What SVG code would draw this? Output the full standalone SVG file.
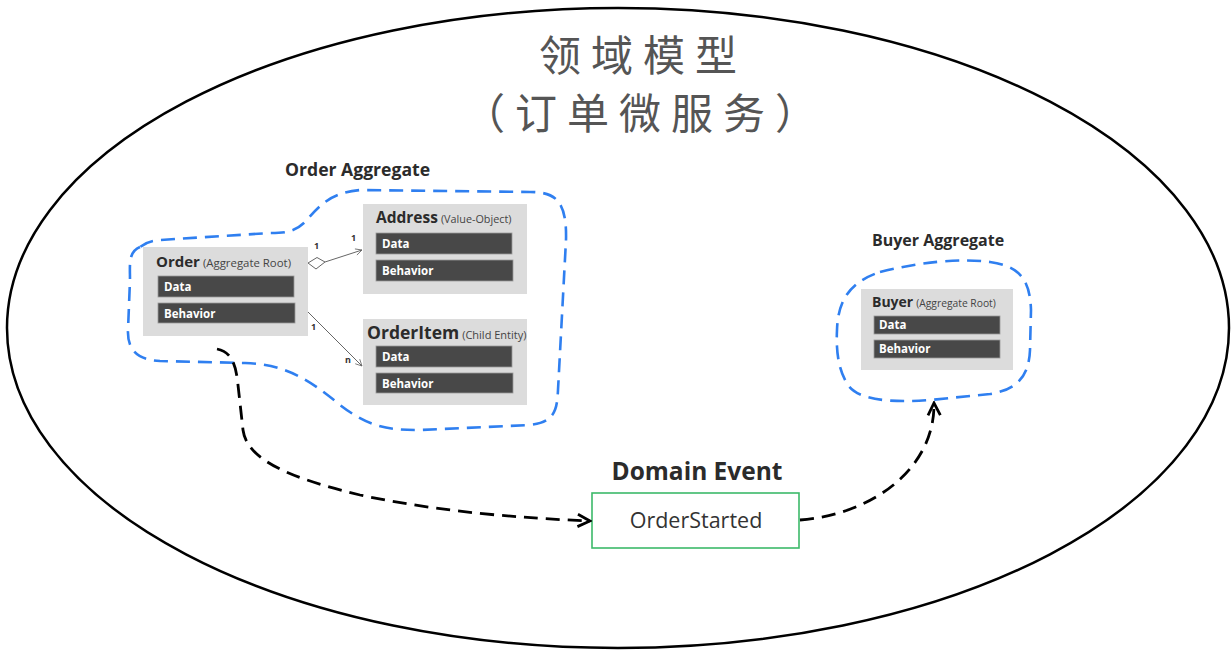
<svg xmlns="http://www.w3.org/2000/svg" width="1231" height="650" viewBox="0 0 1231 650">
<defs>
<style>
.lat{font-family:"Open Sans","Noto Sans",sans-serif}
.title{font-family:"Noto Sans CJK SC","Noto Sans",sans-serif;font-size:42px;fill:#555;text-anchor:middle}
.agg{font-family:"Open Sans",sans-serif;font-weight:bold;fill:#2b2b2b}
.box{fill:#dcdcdc}
.bar{fill:#484848;stroke:#9a9a9a;stroke-width:0.8}
.bt{font-family:"Open Sans",sans-serif;font-weight:bold;font-size:11.5px;fill:#fff}
.nt{font-family:"Open Sans",sans-serif;font-weight:bold;fill:#2b2b2b}
.sub{font-family:"Open Sans",sans-serif;font-weight:normal;fill:#444}
.blue{fill:none;stroke:#2f7ff0;stroke-width:2.6;stroke-dasharray:14 8}
.ev{fill:none;stroke:#000;stroke-width:2.8;stroke-dasharray:14 8}
.thin{fill:none;stroke:#666;stroke-width:1}
.mul{font-family:"Open Sans",sans-serif;font-weight:bold;font-size:9px;fill:#333}
</style>
<marker id="chev" viewBox="0 0 10 10" refX="9" refY="5" markerWidth="5.5" markerHeight="5.5" orient="auto" markerUnits="strokeWidth">
<path d="M1,1 L9,5 L1,9" fill="none" stroke="#000" stroke-width="1.8" stroke-dasharray="none"/>
</marker>
<marker id="thinarrow" viewBox="0 0 10 10" refX="9" refY="5" markerWidth="8" markerHeight="8" orient="auto" markerUnits="strokeWidth">
<path d="M1,1 L9,5 L1,9" fill="none" stroke="#666" stroke-width="1" stroke-dasharray="none"/>
</marker>
</defs>
<rect width="1231" height="650" fill="#fff"/>
<ellipse cx="618" cy="328" rx="611" ry="320" fill="none" stroke="#000" stroke-width="2.5"/>
<g id="title">
<text class="title" x="643" y="71" letter-spacing="10">领域模型</text>
<text class="title" x="645" y="129" letter-spacing="10">（订单微服务）</text>
</g>
<g id="order-aggregate">
<path class="blue" d="M140,247 C128,252 130,265 130,280 L128,330 C127,352 140,360 160,361 L245,363 C285,364 310,380 340,405 C370,428 390,430 420,430 L530,425 C555,422 557,410 558,390 L566,240 C567,200 555,192 530,192 L360,190 C330,193 320,205 305,222 C295,232 285,233 270,233 L160,240 C148,241 144,244 140,247 Z"/>
<text class="agg" x="285" y="176" font-size="17.6">Order Aggregate</text>
</g>
<g id="order">
<rect class="box" x="143" y="247" width="165" height="89"/>
<text x="156" y="267"><tspan class="nt" font-size="15">Order</tspan><tspan class="sub" font-size="11.4" dx="3">(Aggregate Root)</tspan></text>
<rect class="bar" x="158" y="276" width="136" height="21"/>
<text class="bt" x="164" y="291">Data</text>
<rect class="bar" x="158" y="303" width="137" height="20"/>
<text class="bt" x="164" y="318">Behavior</text>
</g>
<g id="address">
<rect class="box" x="363" y="204" width="164" height="90"/>
<text x="376" y="223"><tspan class="nt" font-size="15.5">Address</tspan><tspan class="sub" font-size="10.8" dx="3">(Value-Object)</tspan></text>
<rect class="bar" x="376" y="233" width="136" height="21"/>
<text class="bt" x="382" y="248">Data</text>
<rect class="bar" x="376" y="260" width="137" height="21"/>
<text class="bt" x="382" y="275">Behavior</text>
</g>
<g id="orderitem">
<rect class="box" x="363" y="319" width="164" height="86"/>
<text x="367" y="339"><tspan class="nt" font-size="17.5">OrderItem</tspan><tspan class="sub" font-size="11" dx="3">(Child Entity)</tspan></text>
<rect class="bar" x="376" y="346" width="136" height="21"/>
<text class="bt" x="382" y="361">Data</text>
<rect class="bar" x="376" y="373" width="137" height="20"/>
<text class="bt" x="382" y="388">Behavior</text>
</g>
<g id="buyer-aggregate">
<path class="blue" d="M880,272 C920,262 960,258 990,262 C1020,266 1030,280 1031,310 L1030,350 C1029,378 1015,390 990,394 L930,400 C890,403 858,400 848,385 C838,370 836,350 837,330 C838,300 850,282 880,272 Z"/>
<text class="agg" x="872" y="246" font-size="16">Buyer Aggregate</text>
</g>
<g id="buyer">
<rect class="box" x="861" y="289" width="152" height="81"/>
<text x="872" y="307"><tspan class="nt" font-size="14">Buyer</tspan><tspan class="sub" font-size="10.3" dx="3">(Aggregate Root)</tspan></text>
<rect class="bar" x="874" y="316" width="126" height="18"/>
<text class="bt" x="879" y="329" font-size="10.5">Data</text>
<rect class="bar" x="874" y="340" width="126" height="18"/>
<text class="bt" x="879" y="353" font-size="10.5">Behavior</text>
</g>
<g id="domain-event">
<text class="agg" x="697" y="480" font-size="24.5" text-anchor="middle">Domain Event</text>
<rect x="592" y="493" width="207" height="55" fill="#fff" stroke="#3cba6a" stroke-width="1.6"/>
<text class="lat" x="696" y="528" font-size="21.5" fill="#333" text-anchor="middle">OrderStarted</text>
</g>
<g id="connectors">
<path class="thin" d="M308,263 L317,257.5 L325,262 L316,269 Z" fill="#fff"/>
<path class="thin" d="M325,262 L362,250" marker-end="url(#thinarrow)"/>
<text class="mul" x="314" y="249">1</text>
<text class="mul" x="351" y="241">1</text>
<path class="thin" d="M308,312 L362,366" marker-end="url(#thinarrow)"/>
<text class="mul" x="311" y="330">1</text>
<text class="mul" x="345" y="363">n</text>
<path class="ev" d="M217,349 C232,352 236,365 238,385 L243,430 C247,460 290,478 360,495 C440,512 520,518 590,521" marker-end="url(#chev)"/>
<path class="ev" d="M800,520 C870,515 935,470 934,403" marker-end="url(#chev)"/>
</g>
</svg>
